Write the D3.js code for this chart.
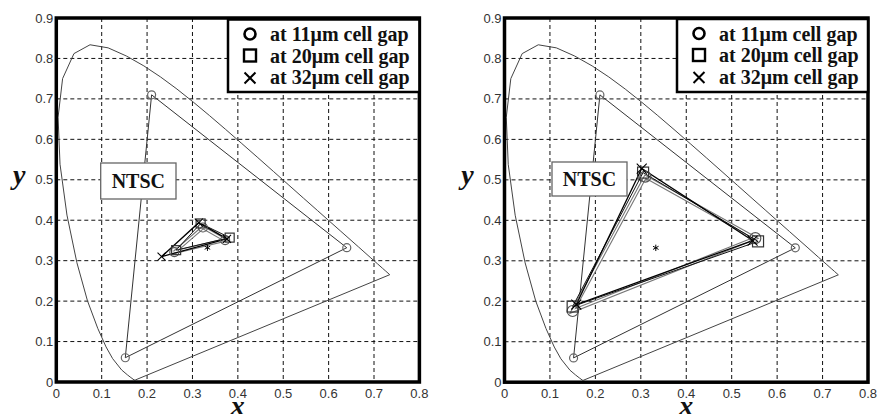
<!DOCTYPE html>
<html><head><meta charset="utf-8">
<script src="https://cdn.jsdelivr.net/npm/d3@7"></script>
<style>body{margin:0;background:#fff}svg{display:block}</style>
</head><body>
<svg id="c" width="878" height="414"></svg>
<script>
// ---------- data ----------
const xTicks = [0, 0.1, 0.2, 0.3, 0.4, 0.5, 0.6, 0.7, 0.8];
const yTicks = [0, 0.1, 0.2, 0.3, 0.4, 0.5, 0.6, 0.7, 0.8, 0.9];
const xTickLabels = ["0", "0.1", "0.2", "0.3", "0.4", "0.5", "0.6", "0.7", "0.8"];
const yTickLabels = ["0", "0.1", "0.2", "0.3", "0.4", "0.5", "0.6", "0.7", "0.8", "0.9"];
// CIE 1931 spectral locus (closed by the purple line)
const locusX = [0.1741,0.1733,0.1714,0.1644,0.1566,0.1440,0.1241,0.1096,0.0913,0.0687,0.0454,0.0235,0.0082,0.0039,0.0139,0.0389,0.0743,0.1142,0.1547,0.1929,0.2296,0.2658,0.3016,0.3373,0.3731,0.4087,0.4441,0.4788,0.5125,0.5448,0.5752,0.6029,0.6270,0.6658,0.6915,0.7079,0.7190,0.7260,0.7347];
const locusY = [0.0050,0.0048,0.0051,0.0109,0.0177,0.0297,0.0578,0.0868,0.1327,0.2007,0.2950,0.4127,0.5384,0.6548,0.7502,0.8120,0.8338,0.8262,0.8059,0.7816,0.7543,0.7243,0.6923,0.6589,0.6245,0.5896,0.5547,0.5202,0.4866,0.4544,0.4242,0.3965,0.3725,0.3340,0.3083,0.2920,0.2809,0.2740,0.2653];
// reference triangle vertices: R, G, B
const ntscX = [0.64, 0.21, 0.152];
const ntscY = [0.332, 0.71, 0.06];
const whiteX = [0.333];
const whiteY = [0.332];
const legendLabels = ["at 11\u03BCm cell gap", "at 20\u03BCm cell gap", "at 32\u03BCm cell gap"];
// Left panel measured primaries (R, G, B)
const leftGap11X = [0.372, 0.323, 0.260];
const leftGap11Y = [0.351, 0.382, 0.321];
const leftGap20X = [0.382, 0.318, 0.264];
const leftGap20Y = [0.357, 0.392, 0.326];
const leftGap32X = [0.376, 0.314, 0.232];
const leftGap32Y = [0.354, 0.394, 0.310];
// Right panel measured primaries (R, G, B)
const rightGap11X = [0.552, 0.310, 0.150];
const rightGap11Y = [0.356, 0.508, 0.176];
const rightGap20X = [0.558, 0.305, 0.150];
const rightGap20Y = [0.348, 0.518, 0.187];
const rightGap32X = [0.546, 0.302, 0.158];
const rightGap32Y = [0.350, 0.528, 0.192];

// ---------- drawing ----------
const svg = d3.select("#c");
const zip = (xs, ys) => xs.map((x, i) => [x, ys[i]]);

function drawPanel(p) {
  const g = svg.append("g");
  const x = d3.scaleLinear().domain([0, 0.8]).range([p.left, p.right]);
  const y = d3.scaleLinear().domain([0, 0.9]).range([p.bottom, p.top]);

  // grid
  g.append("g").selectAll("line").data(xTicks.slice(1, -1)).join("line")
    .attr("x1", d => x(d)).attr("x2", d => x(d)).attr("y1", p.top).attr("y2", p.bottom)
    .attr("stroke", "#111").attr("stroke-width", 1).attr("stroke-dasharray", "4,3");
  g.append("g").selectAll("line").data(yTicks.slice(1, -1)).join("line")
    .attr("y1", d => y(d)).attr("y2", d => y(d)).attr("x1", p.left).attr("x2", p.right)
    .attr("stroke", "#111").attr("stroke-width", 1).attr("stroke-dasharray", "4,3");

  const line = d3.line().x(d => x(d[0])).y(d => y(d[1]));
  // spectral locus
  const loc = zip(locusX, locusY);
  g.append("path").attr("d", line(loc) + "Z").attr("fill", "none")
    .attr("stroke", "#444").attr("stroke-width", 1);
  // reference triangle
  const tri = zip(ntscX, ntscY);
  g.append("path").attr("d", line(tri) + "Z").attr("fill", "none")
    .attr("stroke", "#333").attr("stroke-width", 1);
  g.append("g").selectAll("circle").data(tri).join("circle")
    .attr("cx", d => x(d[0])).attr("cy", d => y(d[1])).attr("r", 4)
    .attr("fill", "none").attr("stroke", "#666").attr("stroke-width", 1.2);

  // NTSC box
  g.append("rect").attr("x", p.ntsc[0]).attr("y", p.ntsc[1]).attr("width", p.ntsc[2]).attr("height", p.ntsc[3])
    .attr("fill", "#fff").attr("stroke", "#666").attr("stroke-width", 1.3);
  g.append("text").attr("x", p.ntsc[0] + p.ntsc[2] / 2).attr("y", p.ntsc[1] + p.ntsc[3] / 2 + 7)
    .attr("text-anchor", "middle").attr("font-family", "Liberation Serif, Times New Roman, serif")
    .attr("font-weight", "bold").attr("font-size", 20).attr("fill", "#111").text("NTSC");

  // series
  const [s11, s20, s32] = p.series.map(s => zip(s[0], s[1]));
  g.append("path").attr("d", line(s11) + "Z").attr("fill", "none").attr("stroke", "#777").attr("stroke-width", 3.6);
  g.append("path").attr("d", line(s11) + "Z").attr("fill", "none").attr("stroke", "#fff").attr("stroke-width", 1.4);
  g.append("path").attr("d", line(s20) + "Z").attr("fill", "none").attr("stroke", "#111").attr("stroke-width", 1);
  g.append("path").attr("d", line(s32) + "Z").attr("fill", "none").attr("stroke", "#000").attr("stroke-width", 1.3);

  g.append("g").selectAll("circle").data(s11).join("circle")
    .attr("cx", d => x(d[0])).attr("cy", d => y(d[1])).attr("r", p.mr)
    .attr("fill", "none").attr("stroke", "#555").attr("stroke-width", 1.2);
  g.append("g").selectAll("rect").data(s20).join("rect")
    .attr("x", d => x(d[0]) - p.mr).attr("y", d => y(d[1]) - p.mr).attr("width", 2 * p.mr).attr("height", 2 * p.mr)
    .attr("fill", "none").attr("stroke", "#333").attr("stroke-width", 1.2);
  g.append("g").selectAll("path").data(s32).join("path")
    .attr("transform", d => `translate(${x(d[0])},${y(d[1])})`)
    .attr("d", d3.symbol(d3.symbolX, p.mr * p.mr * 2.2)())
    .attr("fill", "none").attr("stroke", "#000").attr("stroke-width", 1.1);

  // white point
  g.append("g").selectAll("path").data(zip(whiteX, whiteY)).join("path")
    .attr("transform", d => `translate(${x(d[0])},${y(d[1])})`)
    .attr("d", d3.symbol(d3.symbolAsterisk, 28)())
    .attr("fill", "none").attr("stroke", "#000").attr("stroke-width", 1);

  // frame
  g.append("rect").attr("x", p.left).attr("y", p.top).attr("width", p.right - p.left).attr("height", p.bottom - p.top)
    .attr("fill", "none").attr("stroke", "#000").attr("stroke-width", 3.5);

  // tick labels
  g.append("g").selectAll("text").data(yTicks).join("text")
    .attr("x", p.left - 3).attr("y", d => y(d) + 4.5).attr("text-anchor", "end")
    .attr("font-family", "Liberation Sans, Arial, sans-serif").attr("font-size", 13).attr("fill", "#333")
    .text((d, i) => yTickLabels[i]);
  g.append("g").selectAll("text").data(xTicks).join("text")
    .attr("x", d => x(d)).attr("y", p.bottom + 16).attr("text-anchor", "middle")
    .attr("font-family", "Liberation Sans, Arial, sans-serif").attr("font-size", 13).attr("fill", "#333")
    .text((d, i) => xTickLabels[i]);

  // axis titles
  g.append("text").attr("x", p.left - 37).attr("y", y(0.5) + 4).attr("text-anchor", "middle")
    .attr("font-family", "Liberation Serif, Times New Roman, serif").attr("font-style", "italic").attr("font-weight", "bold")
    .attr("font-size", 28).attr("fill", "#111").text("y");
  g.append("text").attr("x", (p.left + p.right) / 2).attr("y", 415).attr("text-anchor", "middle")
    .attr("font-family", "Liberation Serif, Times New Roman, serif").attr("font-style", "italic").attr("font-weight", "bold")
    .attr("font-size", 28).attr("fill", "#111").text("x");

  // legend
  const lg = g.append("g");
  lg.append("rect").attr("x", p.leg[0]).attr("y", p.leg[1]).attr("width", p.right - p.leg[0]).attr("height", p.leg[2])
    .attr("fill", "#fff").attr("stroke", "#000").attr("stroke-width", 2.5);
  const rows = legendLabels.map((t, i) => ({ t, i, cy: p.leg[1] + 14.5 + i * 21.5 }));
  const mx = p.leg[0] + 22;
  lg.append("circle").attr("cx", mx).attr("cy", rows[0].cy).attr("r", 5.5)
    .attr("fill", "none").attr("stroke", "#000").attr("stroke-width", 2.6);
  lg.append("rect").attr("x", mx - 6).attr("y", rows[1].cy - 6).attr("width", 12).attr("height", 12)
    .attr("fill", "none").attr("stroke", "#000").attr("stroke-width", 2.4);
  lg.append("path").attr("transform", `translate(${mx},${rows[2].cy + 1})`)
    .attr("d", d3.symbol(d3.symbolX, 80)())
    .attr("fill", "none").attr("stroke", "#000").attr("stroke-width", 2);
  lg.selectAll("text").data(rows).join("text")
    .attr("x", p.leg[0] + 42).attr("y", d => d.cy + 7)
    .attr("font-family", "Liberation Serif, Times New Roman, serif").attr("font-weight", "bold")
    .attr("font-size", 20).attr("fill", "#111").text(d => d.t);
}

drawPanel({
  left: 56.3, right: 419.4, top: 18, bottom: 382,
  ntsc: [100.7, 163, 75.3, 36], leg: [228, 19.5, 72.5], mr: 4.5,
  series: [[leftGap11X, leftGap11Y], [leftGap20X, leftGap20Y], [leftGap32X, leftGap32Y]]
});
drawPanel({
  left: 504.5, right: 868, top: 18, bottom: 382.2,
  ntsc: [552, 162, 75, 34], leg: [677, 19, 73], mr: 5.5,
  series: [[rightGap11X, rightGap11Y], [rightGap20X, rightGap20Y], [rightGap32X, rightGap32Y]]
});
</script>
</body></html>
